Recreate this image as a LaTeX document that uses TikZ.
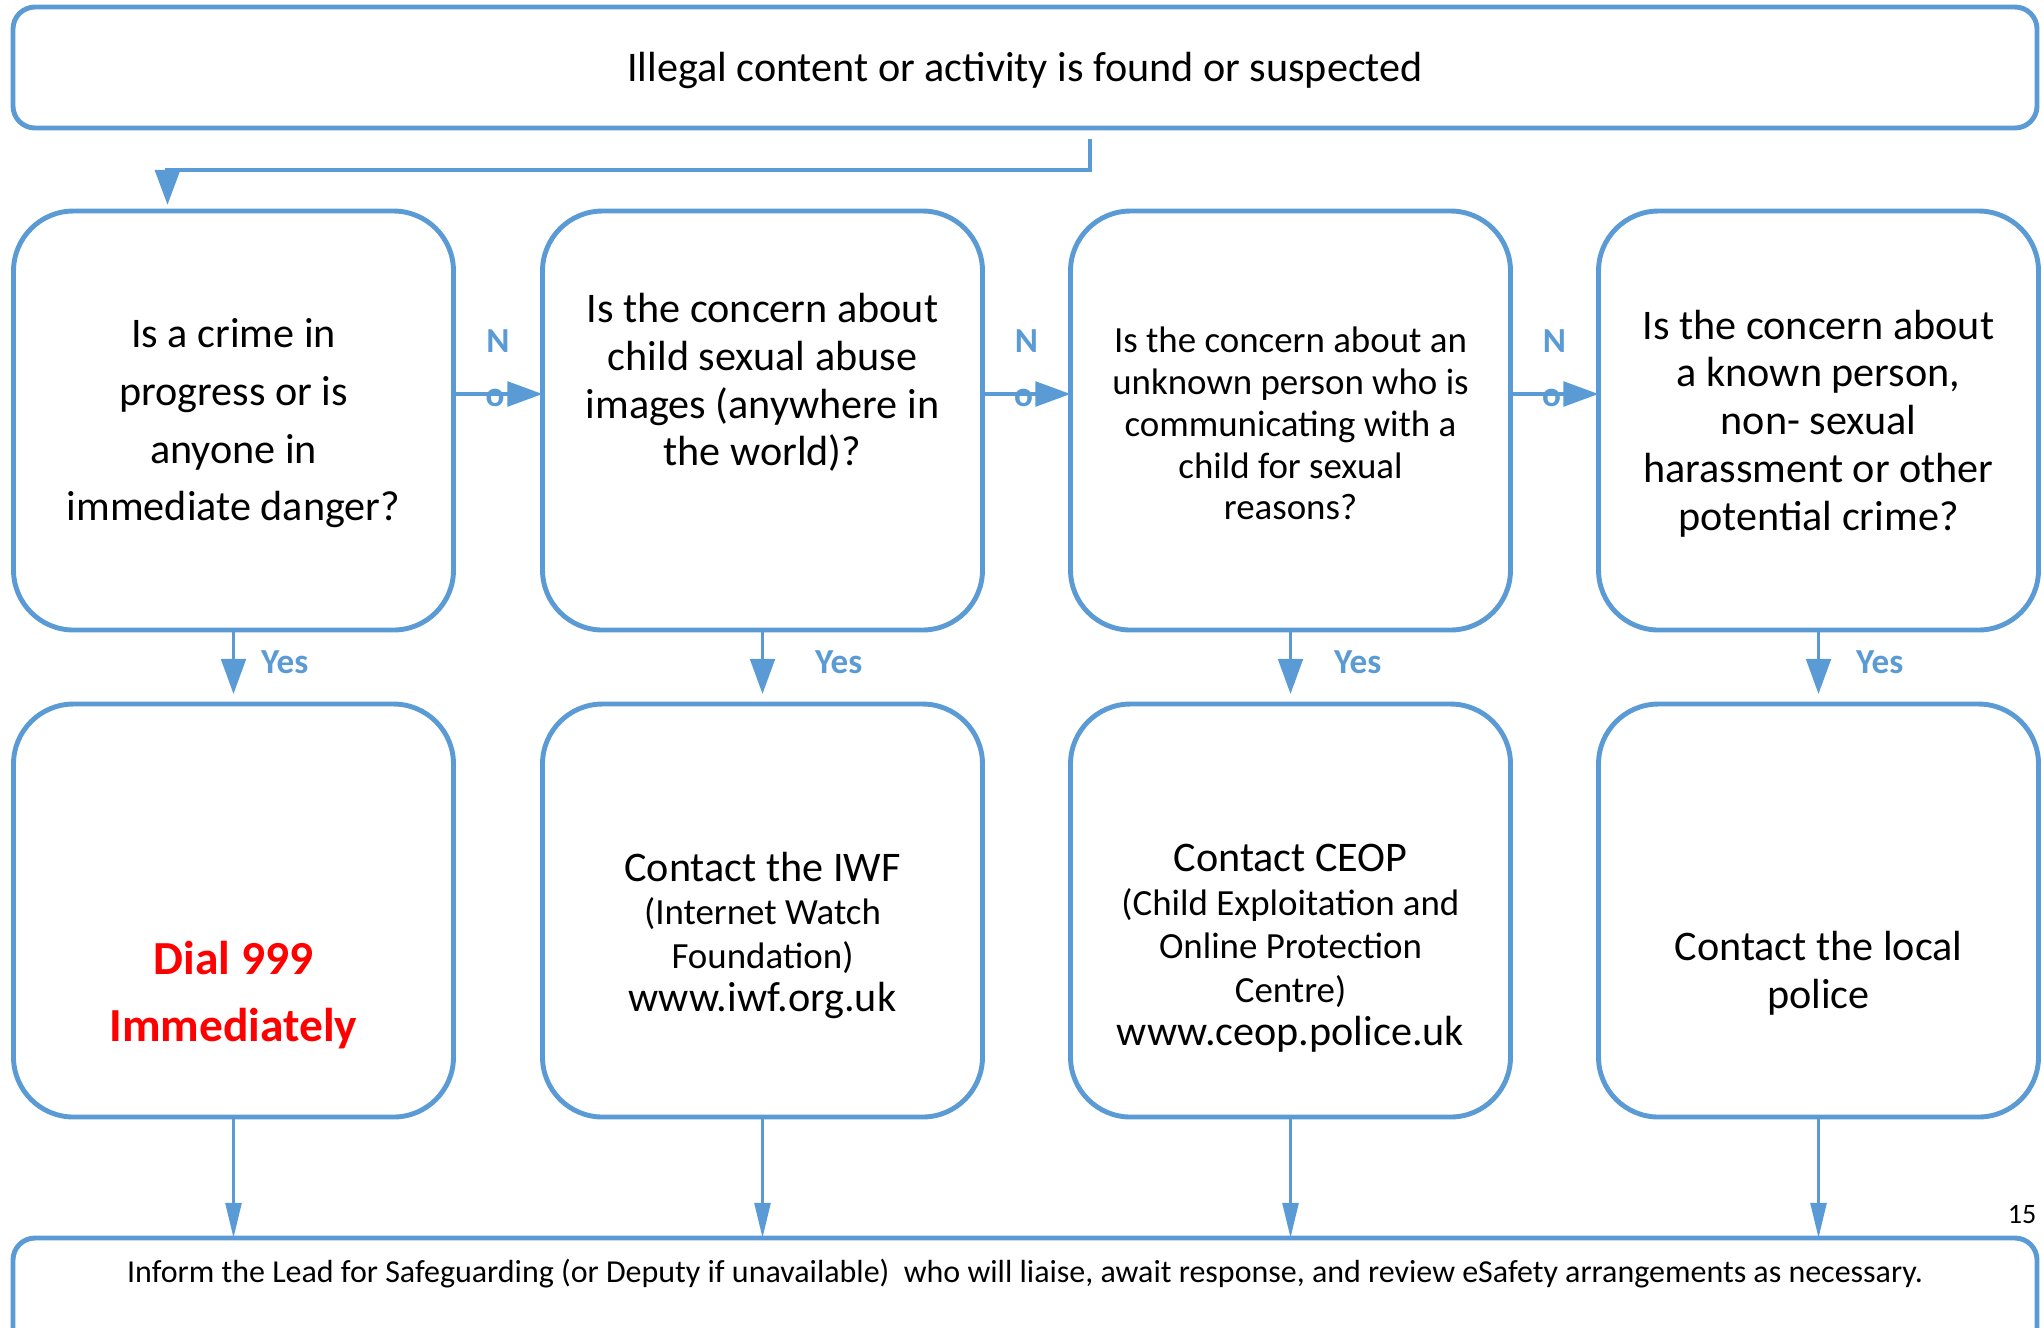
\documentclass[tikz,border=0pt]{standalone}
\usepackage{fontspec}
\setmainfont{Carlito}
\usetikzlibrary{arrows.meta,positioning}

\definecolor{flowblue}{HTML}{5B9BD5}
\definecolor{alarmred}{HTML}{FF0000}

\begin{document}
\begin{tikzpicture}[
    qbox/.style={draw=flowblue, line width=1.4pt, rounded corners=0.6cm,
        minimum width=4.4cm, minimum height=4.19cm, inner sep=0pt, outer sep=0pt},
    abox/.style={qbox, minimum height=4.13cm},
    wide/.style={draw=flowblue, line width=1.4pt, rounded corners=0.22cm,
        minimum width=20.24cm, inner sep=0pt, outer sep=0pt},
    flow/.style={draw=flowblue, line width=1.1pt, -{Triangle[length=10pt,width=7pt]}},
    thinflow/.style={flow, line width=0.9pt, -{Triangle[length=10pt,width=4.5pt]}},
    lbl/.style={text=flowblue, inner sep=0pt, font=\fontsize{10}{12}\selectfont\bfseries},
    body/.style={align=center, inner sep=0pt, font=\fontsize{12}{13.6}\selectfont}
]
    \useasboundingbox (0,0) rectangle (20.44,-13.27);
    \clip (0,0) rectangle (20.44,-13.27);

    % top box
    \node[wide, minimum height=1.21cm] (found) at (10.25,-0.675) {};
    \node[body, font=\fontsize{12}{14}\selectfont] (foundtext) at ([yshift=-0.03cm]found)
        {Illegal content or activity is found or suspected};

    % questions
    \node[qbox] (crime) at (2.335,-4.205) {};
    \node[qbox, right=0.89cm of crime] (images) {};
    \node[qbox, right=0.88cm of images] (unknown) {};
    \node[qbox, right=0.88cm of unknown] (known) {};

    % what to do
    \node[abox, below=0.74cm of crime] (dial) {};
    \node[abox, below=0.74cm of images] (iwf) {};
    \node[abox, below=0.74cm of unknown] (ceop) {};
    \node[abox, below=0.74cm of known] (police) {};

    % bottom box, runs off the page
    \node[wide, minimum height=1.3cm, anchor=north] (inform) at (10.25,-12.38) {};

    % texts of the boxes
    \node[body, font=\fontsize{12}{16.4}\selectfont] (crimetext) at ([yshift=-0.03cm]crime)
        {Is a crime in\\progress or is\\anyone in\\immediate danger?};
    \node[body] (imagestext) at ([yshift=0.38cm]images)
        {Is the concern about\\child sexual abuse\\images (anywhere in\\the world)?};
    \node[body, font=\fontsize{10.5}{11.9}\selectfont] (unknowntext) at ([yshift=-0.03cm]unknown)
        {Is the concern about an\\unknown person who is\\communicating with a\\child for sexual\\reasons?};
    \node[body] (knowntext) at ([yshift=-0.03cm]known)
        {Is the concern about\\a known person,\\non- sexual\\harassment or other\\potential crime?};
    \node[body, text=alarmred, font=\fontsize{13.5}{19.3}\selectfont\bfseries] (dialtext) at ([yshift=-0.845cm]dial)
        {Dial 999\\Immediately};
    \node[body, font=\fontsize{10.5}{12.3}\selectfont] (iwftext) at ([yshift=-0.25cm]iwf)
        {{\fontsize{12}{14}\selectfont Contact the IWF}\\(Internet Watch\\Foundation)\\{\fontsize{12}{14}\selectfont www.iwf.org.uk}};
    \node[body, font=\fontsize{10.5}{12.4}\selectfont] (ceoptext) at ([yshift=-0.38cm]ceop)
        {{\fontsize{12}{14}\selectfont Contact CEOP}\\(Child Exploitation and\\Online Protection\\Centre)\\{\fontsize{12}{14}\selectfont www.ceop.police.uk}};
    \node[body, font=\fontsize{12}{13.7}\selectfont] (policetext) at ([yshift=-0.63cm]police)
        {Contact the local\\police};
    \node[font=\fontsize{9.1}{11}\selectfont, inner sep=0pt] (informtext) at ([yshift=-0.36cm]inform.north)
        {Inform the Lead for Safeguarding (or Deputy if unavailable)~ who will liaise, await response, and review eSafety arrangements as necessary.};

    % page number
    \node[font=\fontsize{8}{10}\selectfont, inner sep=0pt] (page) at (20.22,-12.15) {15};

    % from the top box to the first question
    \draw[flow, line width=1.3pt] ([xshift=0.65cm,yshift=-0.11cm]found.south) -- ++(0,-0.31)
        -| ([xshift=-0.66cm,yshift=0.06cm]crime.north);

    % no: go on to the next question
    \draw[flow] ([yshift=0.265cm]crime.east) -- ([yshift=0.265cm]images.west)
        node[lbl, midway, above=0.4cm] (n1) {N}
        node[lbl, midway, anchor=base, xshift=-0.03cm, yshift=-0.12cm] (o1) {o};
    \draw[flow] ([yshift=0.265cm]images.east) -- ([yshift=0.265cm]unknown.west)
        node[lbl, midway, above=0.4cm] (n2) {N}
        node[lbl, midway, anchor=base, xshift=-0.03cm, yshift=-0.12cm] (o2) {o};
    \draw[flow] ([yshift=0.265cm]unknown.east) -- ([yshift=0.265cm]known.west)
        node[lbl, midway, above=0.4cm] (n3) {N}
        node[lbl, midway, anchor=base, xshift=-0.03cm, yshift=-0.12cm] (o3) {o};

    % yes: what to do
    \draw[flow, line width=0.95pt] (crime.south) -- ([yshift=0.1cm]dial.north)
        node[lbl, midway, right=0.26cm] (yes1) {Yes};
    \draw[flow, line width=0.95pt] (images.south) -- ([yshift=0.1cm]iwf.north)
        node[lbl, midway, right=0.51cm] (yes2) {Yes};
    \draw[flow, line width=0.95pt] (unknown.south) -- ([yshift=0.1cm]ceop.north)
        node[lbl, midway, right=0.42cm] (yes3) {Yes};
    \draw[flow, line width=0.95pt] (known.south) -- ([yshift=0.1cm]police.north)
        node[lbl, midway, right=0.36cm] (yes4) {Yes};

    % all of them end with the lead
    \draw[thinflow] (dial.south) -- (dial.south |- inform.north);
    \draw[thinflow] (iwf.south) -- (iwf.south |- inform.north);
    \draw[thinflow] (ceop.south) -- (ceop.south |- inform.north);
    \draw[thinflow] (police.south) -- (police.south |- inform.north);
\end{tikzpicture}
\end{document}
